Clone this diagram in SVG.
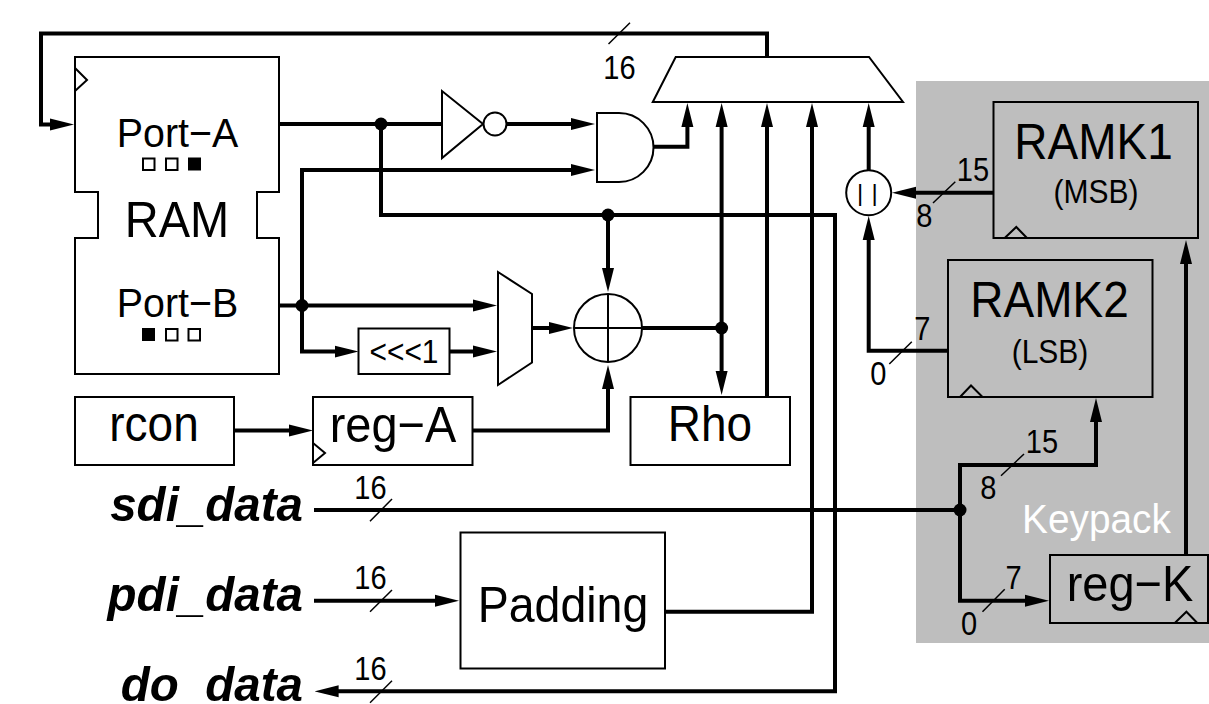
<svg xmlns="http://www.w3.org/2000/svg" width="1209" height="704" viewBox="0 0 1209 704">
<defs>
<marker id="a" markerUnits="userSpaceOnUse" markerWidth="24" markerHeight="14" refX="14" refY="7" orient="auto"><path d="M0 1 L24 7 L0 13 Z" fill="#000"/></marker>
</defs>
<style>
text{font-family:"Liberation Sans",Arial,sans-serif;fill:#000;text-anchor:middle}
.b{fill:none;stroke:#000;stroke-width:2}
.w{fill:#fff;stroke:#000;stroke-width:2}
.c{fill:none;stroke:#000;stroke-width:4}
.ar{marker-end:url(#a)}
.t{stroke:#000;stroke-width:1.5;fill:none}
.m{font-size:50px}
.p{font-size:41px}
.n{font-size:33px}
.u{font-size:32.600px}
.d{font-size:49px;font-weight:bold;font-style:italic;text-anchor:end}
.f{fill:#000}
</style>
<g id="keypack">
<rect x="916" y="81" width="293" height="562" fill="#bebebe"/>
<text transform="translate(1096.500 532.500) scale(.97 1)" font-size="40" style="fill:#fff">Keypack</text>
</g>
<g id="ram">
<path class="w" d="M75 57 H279 V192 H257 V238 H279 V374 H75 V238 H98 V192 H75 Z"/>
<path class="b" d="M75 68 L87 80 L75 91"/>
<text class="p" transform="translate(177.500 147) scale(.96 1)">Port−A</text>
<text class="p" transform="translate(177.500 317) scale(.96 1)">Port−B</text>
<text transform="translate(177 237) scale(.94 1)" font-size="50">RAM</text>
<rect class="b" x="143" y="158.500" width="11.500" height="11.500"/>
<rect class="b" x="166" y="158.500" width="11.500" height="11.500"/>
<rect class="f" x="188" y="157.500" width="13" height="13"/>
<rect class="f" x="142" y="328" width="13" height="13"/>
<rect class="b" x="166" y="329" width="11.500" height="11.500"/>
<rect class="b" x="188.500" y="329" width="11.500" height="11.500"/>
</g>
<g id="inverter">
<path class="w" d="M442 91 V158 L483 124 Z"/>
<circle class="w" cx="495" cy="124" r="11.500"/>
</g>
<g id="and-gate"><path class="w" d="M597 113 H619 A34.500 34.500 0 0 1 619 182 H597 Z"/></g>
<g id="shift"><rect class="w" x="358.500" y="328.500" width="91" height="45.500"/><text transform="translate(404 363) scale(.92 1)" font-size="32.500">&lt;&lt;&lt;1</text></g>
<g id="mux-b"><path class="w" d="M498 272 L532 294 V362.500 L498 385 Z"/></g>
<g id="xor"><circle class="w" cx="608" cy="328" r="34"/><path class="b" d="M574 328 H642 M608 294 V362"/></g>
<g id="mux-a"><path class="w" d="M652.800 102 L675.700 57 H869 L903 102 Z"/></g>
<g id="rcon"><rect class="w" x="75" y="397" width="159" height="68"/><text class="m" transform="translate(154 441) scale(.92 1)">rcon</text></g>
<g id="reg-a"><rect class="w" x="313" y="397" width="159.500" height="68"/><path class="b" d="M313 443 L325 453 L313 463"/><text transform="translate(393 442) scale(.93 1)" font-size="50.500">reg−A</text></g>
<g id="rho"><rect class="w" x="630.500" y="397" width="159.500" height="68"/><text class="m" transform="translate(710 441) scale(.92 1)">Rho</text></g>
<g id="padding"><rect class="w" x="460.500" y="532.500" width="204.500" height="136"/><text transform="translate(563 622) scale(.93 1)" font-size="50">Padding</text></g>
<g id="concat"><circle class="w" cx="868.700" cy="192.700" r="22.500"/><text x="860 874.600" y="200.500" font-size="24">||</text></g>
<g id="ramk1"><rect class="b" x="993.500" y="102" width="204.500" height="136"/><path class="b" d="M1004.700 238 L1016.300 227 L1027 238"/><text class="m" transform="translate(1093.500 159) scale(.92 1)">RAMK1</text><text class="u" transform="translate(1096 203) scale(.92 1)">(MSB)</text></g>
<g id="ramk2"><rect class="b" x="948" y="260" width="204.500" height="137"/><path class="b" d="M960 397 L971 385.500 L982.500 397"/><text class="m" transform="translate(1049.500 316.500) scale(.92 1)">RAMK2</text><text class="u" transform="translate(1050 362.500) scale(.92 1)">(LSB)</text></g>
<g id="reg-k"><rect class="b" x="1050" y="555" width="158" height="68"/><path class="b" d="M1174.800 623 L1186.400 611.700 L1197.300 623"/><text transform="translate(1130 601) scale(.93 1)" font-size="50.500">reg−K</text></g>
<g id="ports">
<text class="d" transform="translate(303 520.500) scale(.97 1)">sdi_data</text>
<text class="d" transform="translate(303 610.500) scale(.97 1)">pdi_data</text>
<text class="d" transform="translate(303 700.500) scale(.97 1)">do_data</text>
</g>
<g id="connectors">
<path class="c ar" d="M767 57 V33.500 H41 V124.500 H64"/>
<path class="c" d="M279 124 H442"/>
<path class="c ar" d="M506.500 124 H585"/>
<path class="c" d="M381 124 V215 H835 V691.300 H325"/>
<path class="c ar" d="M325 691.300 H324.600"/>
<path class="c ar" d="M302 305.500 V170 H585"/>
<path class="c ar" d="M279 305.500 H487"/>
<path class="c ar" d="M302 305.500 V351.500 H348.500"/>
<path class="c ar" d="M449.500 351.500 H487"/>
<path class="c ar" d="M532 328 H563"/>
<path class="c ar" d="M653 146.700 H687.400 V113"/>
<path class="c ar" d="M721.600 328 V113"/>
<path class="c ar" d="M721.600 328 V385"/>
<path class="c" d="M642 328 H721.600"/>
<path class="c ar" d="M767 397 V113"/>
<path class="c ar" d="M665 611.700 H812 V113"/>
<path class="c ar" d="M868.700 170 V113"/>
<path class="c ar" d="M608 215 V282"/>
<path class="c ar" d="M473 430.500 H608 V375"/>
<path class="c ar" d="M234 430.500 H303"/>
<path class="c" d="M314 510 H960"/>
<path class="c ar" d="M960 510 V465 H1096 V408"/>
<path class="c ar" d="M960 510 V600.700 H1039"/>
<path class="c ar" d="M314 600.700 H449"/>
<path class="c ar" d="M1186 555 V250"/>
<path class="c ar" d="M993.500 192.700 H902"/>
<path class="c ar" d="M948 350.700 H868.700 V226"/>
<circle class="f" cx="381" cy="124" r="6.500"/>
<circle class="f" cx="302" cy="305.500" r="6.500"/>
<circle class="f" cx="608" cy="215" r="6.500"/>
<circle class="f" cx="721.600" cy="328" r="6.500"/>
<circle class="f" cx="960" cy="510" r="6.500"/>
</g>
<g id="bus-ticks">
<path class="t" d="M630 22.700 L608.500 44"/>
<text class="n" transform="translate(619.500 79) scale(.88 1)">16</text>
<path class="t" d="M392 499 L370 521.300"/>
<text class="n" transform="translate(370.500 498.500) scale(.88 1)">16</text>
<path class="t" d="M392 590 L370 611.700"/>
<text class="n" transform="translate(370.500 588.500) scale(.88 1)">16</text>
<path class="t" d="M392 680.700 L370 702.700"/>
<text class="n" transform="translate(370.500 680) scale(.88 1)">16</text>
<path class="t" d="M955.300 181.700 L933 203"/>
<text class="n" transform="translate(973 181) scale(.88 1)">15</text>
<text class="n" transform="translate(924.300 226.500) scale(.88 1)">8</text>
<path class="t" d="M911.800 341.700 L889.300 364"/>
<text class="n" transform="translate(922.300 340) scale(.88 1)">7</text>
<text class="n" transform="translate(878.400 385) scale(.88 1)">0</text>
<path class="t" d="M1024 454 L1001 475.700"/>
<text class="n" transform="translate(1042 452.500) scale(.88 1)">15</text>
<text class="n" transform="translate(988.300 498.500) scale(.88 1)">8</text>
<path class="t" d="M1004.700 589.300 L982.500 611.700"/>
<text class="n" transform="translate(1013.600 588.500) scale(.88 1)">7</text>
<text class="n" transform="translate(969 635) scale(.88 1)">0</text>
</g>
</svg>
